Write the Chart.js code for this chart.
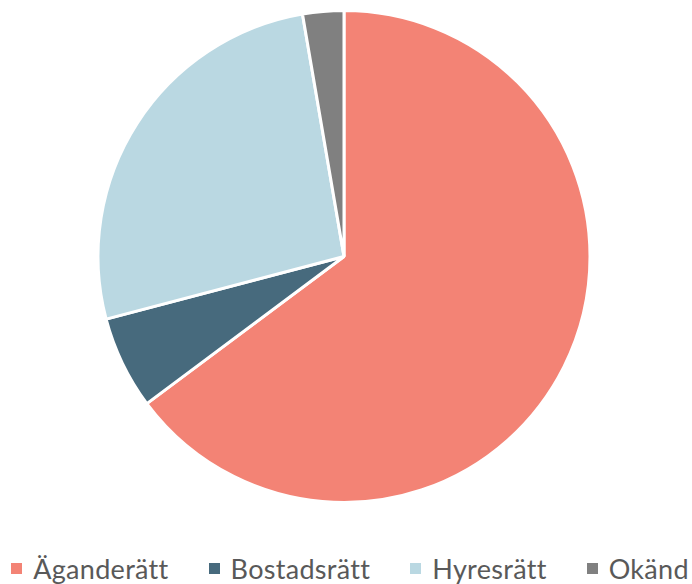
<!DOCTYPE html>
<html>
<head>
<meta charset="utf-8">
<script src="https://cdn.jsdelivr.net/npm/chart.js@4"></script>
<style>
    html, body { margin: 0; padding: 0; background: #fff; overflow: hidden; }
    body { width: 692px; height: 584px; position: relative; }
    #wrap { position: absolute; left: 0; top: 0; width: 692px; height: 513px; }
    #legend {
        position: absolute; left: 4px; top: 549px; width: 692px; height: 38px;
        display: flex; justify-content: center; align-items: center;
        font-family: Lato, sans-serif; font-size: 27px; letter-spacing: 0.3px; color: #595959;
    }
    .item { display: flex; align-items: center; margin: 0 20px; white-space: nowrap; }
    .box { width: 11px; height: 11px; margin-right: 11px; }
</style>
</head>
<body>
<div id="wrap"><canvas id="tenureChart"></canvas></div>
<div id="legend"></div>
<script>
const categories = ['Äganderätt', 'Bostadsrätt', 'Hyresrätt', 'Okänd'];
const shares = [64.8, 6.1, 26.4, 2.7];
const colors = ['#F38375', '#476A7D', '#BAD8E2', '#808080'];

document.addEventListener('DOMContentLoaded', function() {
    const ctx = document.getElementById('tenureChart').getContext('2d');

    new Chart(ctx, {
        type: 'pie',
        data: {
            labels: categories,
            datasets: [{
                data: shares,
                backgroundColor: colors,
                borderColor: '#ffffff',
                borderWidth: 3
            }]
        },
        options: {
            responsive: true,
            maintainAspectRatio: false,
            animation: false,
            layout: {
                padding: { top: 9, bottom: 9, left: 0, right: 4 }
            },
            plugins: {
                legend: { display: false },
                tooltip: { enabled: false }
            }
        }
    });

    // legend built from the same arrays
    const legend = document.getElementById('legend');
    categories.forEach((name, i) => {
        const item = document.createElement('div');
        item.className = 'item';
        const box = document.createElement('span');
        box.className = 'box';
        box.style.background = colors[i];
        const label = document.createElement('span');
        label.textContent = name;
        item.appendChild(box);
        item.appendChild(label);
        legend.appendChild(item);
    });
});
</script>
</body>
</html>
